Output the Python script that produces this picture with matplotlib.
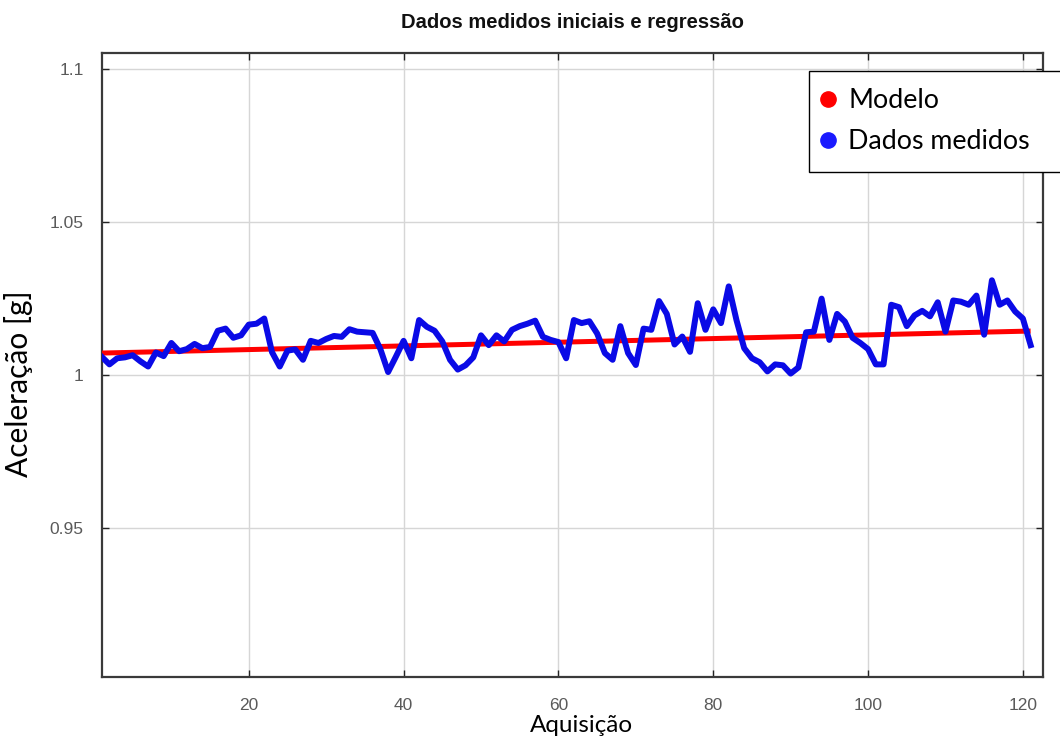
import numpy as np
import matplotlib
matplotlib.use("Agg")
import matplotlib.pyplot as plt
from matplotlib.lines import Line2D

# ---- data ----
acquisition = list(range(1, 122))
measured = [
    1.0060, 1.0035, 1.0055, 1.0058, 1.0065, 1.0045, 1.0028, 1.0074, 1.0062, 1.0105,
    1.0078, 1.0085, 1.0102, 1.0088, 1.0092, 1.0145, 1.0152, 1.0122, 1.0130, 1.0165,
    1.0168, 1.0185, 1.0075, 1.0028, 1.0080, 1.0084, 1.0050, 1.0112, 1.0105, 1.0118,
    1.0128, 1.0125, 1.0150, 1.0142, 1.0140, 1.0138, 1.0085, 1.0010, 1.0060, 1.0112,
    1.0055, 1.0180, 1.0158, 1.0145, 1.0110, 1.0050, 1.0018, 1.0032, 1.0058, 1.0130,
    1.0098, 1.0130, 1.0110, 1.0148, 1.0160, 1.0168, 1.0178, 1.0125, 1.0115, 1.0108,
    1.0055, 1.0180, 1.0170, 1.0176, 1.0136, 1.0072, 1.0050, 1.0160, 1.0072, 1.0033,
    1.0152, 1.0148, 1.0242, 1.0200, 1.0100, 1.0126, 1.0076, 1.0235, 1.0148, 1.0215,
    1.0170, 1.0290, 1.0180, 1.0088, 1.0055, 1.0042, 1.0012, 1.0035, 1.0032, 1.0005,
    1.0025, 1.0140, 1.0142, 1.0250, 1.0115, 1.0200, 1.0175, 1.0122, 1.0105, 1.0085,
    1.0035, 1.0035, 1.0230, 1.0222, 1.0160, 1.0195, 1.0210, 1.0192, 1.0238, 1.0142,
    1.0244, 1.0240, 1.0230, 1.0260, 1.0132, 1.0310, 1.0230, 1.0244, 1.0208, 1.0185,
    1.0098,
]
model_x = [1, 121]
model_y = [1.0072, 1.0144]

x_ticks = [20, 40, 60, 80, 100, 120]
x_tick_labels = ["20", "40", "60", "80", "100", "120"]
y_ticks = [0.95, 1.0, 1.05, 1.1]
y_tick_labels = ["0.95", "1", "1.05", "1.1"]

title = "Dados medidos iniciais e regressão"
xlabel = "Aquisição"
ylabel = "Aceleração [g]"
legend_labels = ["Modelo", "Dados medidos"]

# ---- figure ----
fig = plt.figure(figsize=(10.6, 7.42), dpi=100)
ax = fig.add_axes([101.7 / 1060, 1 - 677 / 742, (1043 - 101.7) / 1060, (677 - 53) / 742])

ax.plot(model_x, model_y, color="#ff0000", linewidth=3.6, solid_capstyle="butt", zorder=3)
ax.plot(acquisition, measured, color="#0a0ae6", linewidth=4.3, solid_joinstyle="round", zorder=4)

ax.set_xlim(1, 122.6)
ax.set_ylim(0.9013, 1.1053)

tick_font = ["Liberation Sans Narrow", "Liberation Sans", "DejaVu Sans"]
ax.set_xticks(x_ticks)
ax.set_xticklabels(x_tick_labels, family=tick_font, fontsize=12.5, color="#5a5a5a")
ax.set_yticks(y_ticks)
ax.set_yticklabels(y_tick_labels, family=tick_font, fontsize=12.5, color="#5a5a5a")
ax.tick_params(direction="in", length=5, width=1, top=True, right=True, colors="#222222")
ax.tick_params(axis="x", labelcolor="#5a5a5a", pad=15)
ax.tick_params(axis="y", labelcolor="#5a5a5a", pad=13)

ax.grid(True, color="#d6d6d6", linewidth=1.0)
ax.set_axisbelow(True)
for s in ax.spines.values():
    s.set_color("#3a3a3a")
    s.set_linewidth(1.6)

fig.text(572 / 1060, 1 - 22 / 742, title, ha="center", va="center",
         family=["Liberation Sans Narrow", "Liberation Sans", "DejaVu Sans"],
         fontweight="bold", fontsize=14.5, color="#111111")

label_font = ["Lato", "DejaVu Sans"]
fig.text(581 / 1060, 1 - 725 / 742, xlabel, ha="center", va="center",
         family=label_font, fontsize=17.5, color="black")
fig.text(19 / 1060, 1 - 384 / 742, ylabel, ha="center", va="center", rotation=90,
         family=label_font, fontsize=21.5, color="black")

handles = [
    Line2D([], [], marker="o", linestyle="none", color="#ff0000", markersize=11),
    Line2D([], [], marker="o", linestyle="none", color="#1a1aff", markersize=11),
]
leg = fig.legend(handles, legend_labels, loc="upper left",
                 bbox_to_anchor=(809 / 1060, 1 - 70.5 / 742 - 0.01, 0.3, 0.01), mode="expand",
                 prop={"family": label_font, "size": 19.3}, frameon=True, fancybox=False,
                 edgecolor="black", framealpha=1.0, handlelength=0.1, handletextpad=0.7,
                 labelspacing=0.6, borderpad=0.66, borderaxespad=0)
leg.get_frame().set_linewidth(1.0)

fig.savefig("out.png", dpi=100)
